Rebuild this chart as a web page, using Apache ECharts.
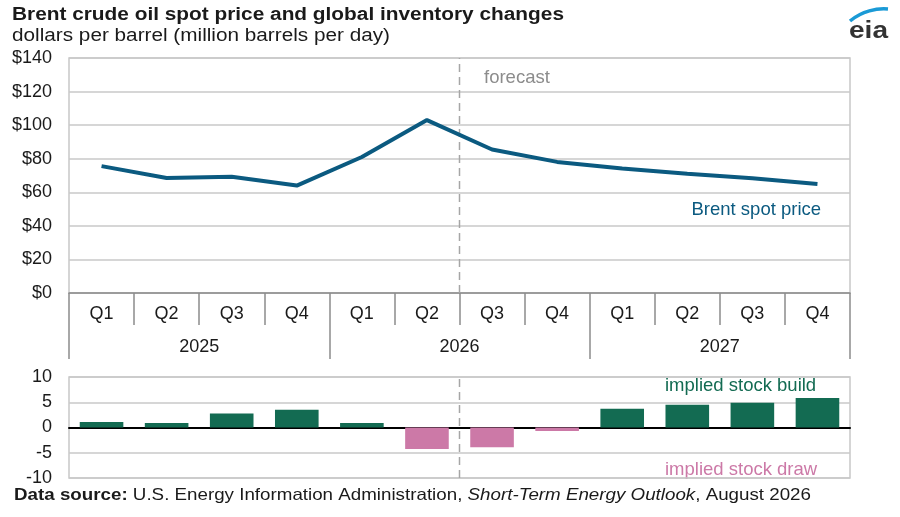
<!DOCTYPE html>
<html>
<head>
<meta charset="utf-8">
<script src="https://cdn.jsdelivr.net/npm/echarts@6/dist/echarts.min.js"></script>
<style>
  html, body { margin: 0; padding: 0; background: #fff; }
  #chart { width: 900px; height: 517px; }
</style>
</head>
<body>
<div id="chart"></div>
<script>
// Brent price (top panel) and implied stock changes (bottom panel)
const quarters = ['Q1', 'Q2', 'Q3', 'Q4', 'Q1', 'Q2', 'Q3', 'Q4', 'Q1', 'Q2', 'Q3', 'Q4'];
const years = ['2025', '2026', '2027'];
const brentPrice = [75.6, 68.5, 69.3, 64, 81, 103, 85.5, 78.1, 74.2, 71, 68.3, 65];
const stockChange = [1.1, 0.9, 2.75, 3.5, 0.9, -4.25, -3.9, -0.7, 3.7, 4.5, 4.9, 5.85];
const forecastStart = 6; // boundary between 2026 Q2 and Q3
const priceRange = [0, 140];
const stockRange = [-10, 10];

const FONT = 'Liberation Sans, Arial, sans-serif';
const TEXT = '#1a1a1a';
const GRID_GREY = '#c8c8c8';
const AXIS_GREY = '#8c8c8c';
const BRENT_BLUE = '#0b5a80';
const BUILD_GREEN = '#136b52';
const DRAW_PINK = '#cc79a7';

const chart = echarts.init(document.getElementById('chart'));

// the source image is a little wider than tall, so the header/footer text is stretched sideways
function wideText(x, y, text, size, scaleX, extra) {
    return {
        type: 'text',
        x: x,
        y: y,
        scaleX: scaleX,
        style: Object.assign({
            text: text,
            fontFamily: FONT,
            fontSize: size,
            fill: TEXT,
            verticalAlign: 'middle'
        }, extra || {})
    };
}

function note(x, y, text, color) {
    return {
        type: 'text',
        x: x,
        y: y,
        style: { text: text, fontFamily: FONT, fontSize: 18.5, fill: color, verticalAlign: 'middle' }
    };
}

const option = {
    animation: false,
    textStyle: { fontFamily: FONT },
    grid: [
        { left: 69, right: 50, top: 58, height: 235, show: true, borderColor: GRID_GREY, borderWidth: 1.5 },
        { left: 69, right: 50, top: 377, height: 101, show: true, borderColor: GRID_GREY, borderWidth: 1.5 }
    ],
    xAxis: [
        {
            gridIndex: 0,
            type: 'category',
            data: quarters,
            axisLine: { lineStyle: { color: AXIS_GREY, width: 1.5 } },
            axisTick: { show: true, interval: 0, length: 32, lineStyle: { color: AXIS_GREY, width: 1.5 } },
            axisLabel: { interval: 0, margin: 12, fontSize: 18, color: TEXT }
        },
        {
            gridIndex: 0,
            type: 'category',
            position: 'bottom',
            data: years,
            axisLine: { show: false },
            axisTick: { show: true, interval: 0, length: 66, lineStyle: { color: AXIS_GREY, width: 1.5 } },
            axisLabel: { interval: 0, margin: 45, fontSize: 18, color: TEXT }
        },
        { gridIndex: 0, type: 'value', min: 0, max: quarters.length, show: false },
        {
            gridIndex: 1,
            type: 'category',
            data: quarters,
            axisLine: { onZero: true, lineStyle: { color: '#000', width: 2 } },
            axisTick: { show: false },
            axisLabel: { show: false }
        },
        { gridIndex: 1, type: 'value', min: 0, max: quarters.length, show: false }
    ],
    yAxis: [
        {
            gridIndex: 0,
            type: 'value',
            min: priceRange[0],
            max: priceRange[1],
            interval: 20,
            axisLine: { show: false },
            axisTick: { show: false },
            axisLabel: { margin: 17, fontSize: 18, color: TEXT, formatter: '${value}' },
            splitLine: { lineStyle: { color: GRID_GREY, width: 1.5 } }
        },
        {
            gridIndex: 1,
            type: 'value',
            min: stockRange[0],
            max: stockRange[1],
            interval: 5,
            axisLine: { show: false },
            axisTick: { show: false },
            axisLabel: { margin: 17, fontSize: 18, color: TEXT },
            splitLine: { lineStyle: { color: GRID_GREY, width: 1.5 } }
        }
    ],
    series: [
        {
            name: 'forecast divider',
            type: 'line',
            xAxisIndex: 2,
            yAxisIndex: 0,
            data: [[forecastStart, priceRange[0]], [forecastStart, priceRange[1]]],
            symbol: 'none',
            silent: true,
            z: 1,
            lineStyle: { color: '#a6a6a6', width: 1.5, type: [8, 5] }
        },
        {
            name: 'Brent spot price',
            type: 'line',
            xAxisIndex: 0,
            yAxisIndex: 0,
            data: brentPrice,
            symbol: 'none',
            z: 3,
            lineStyle: { color: BRENT_BLUE, width: 4 }
        },
        {
            name: 'forecast divider (stocks)',
            type: 'line',
            xAxisIndex: 4,
            yAxisIndex: 1,
            data: [[forecastStart, stockRange[0]], [forecastStart, stockRange[1]]],
            symbol: 'none',
            silent: true,
            z: 1,
            lineStyle: { color: '#a6a6a6', width: 1.5, type: [8, 5] }
        },
        {
            name: 'implied stock change',
            type: 'bar',
            xAxisIndex: 3,
            yAxisIndex: 1,
            barWidth: '67%',
            z: 2,
            data: stockChange.map(v => ({
                value: v,
                itemStyle: { color: v >= 0 ? BUILD_GREEN : DRAW_PINK }
            }))
        }
    ],
    graphic: [
        wideText(12, 15, 'Brent crude oil spot price and global inventory changes', 17.5, 1.19, { fontWeight: 'bold' }),
        wideText(12, 36, 'dollars per barrel (million barrels per day)', 17.5, 1.185),
        wideText(14, 495.5, '{b|Data source:} U.S. Energy Information Administration, {i|Short-Term Energy Outlook}, August 2026', 16.5, 1.137, {
            rich: {
                b: { fontFamily: FONT, fontSize: 16.5, fontWeight: 'bold', fill: TEXT },
                i: { fontFamily: FONT, fontSize: 16.5, fontStyle: 'italic', fill: TEXT }
            }
        }),
        note(484, 77.5, 'forecast', '#8c8c8c'),
        note(691.5, 210, 'Brent spot price', BRENT_BLUE),
        note(665, 385.5, 'implied stock build', BUILD_GREEN),
        note(665, 470, 'implied stock draw', DRAW_PINK),
        // eia logo
        {
            type: 'bezierCurve',
            shape: { x1: 850, y1: 21, x2: 888, y2: 9, cpx1: 862, cpy1: 11, cpx2: 877, cpy2: 8 },
            style: { stroke: '#1a9ad6', lineWidth: 3.5, fill: null }
        },
        wideText(849, 32, 'eia', 23, 1.22, { fill: '#333', fontWeight: 'bold' })
    ]
};

chart.setOption(option);
window.addEventListener('resize', () => chart.resize());
</script>
</body>
</html>
